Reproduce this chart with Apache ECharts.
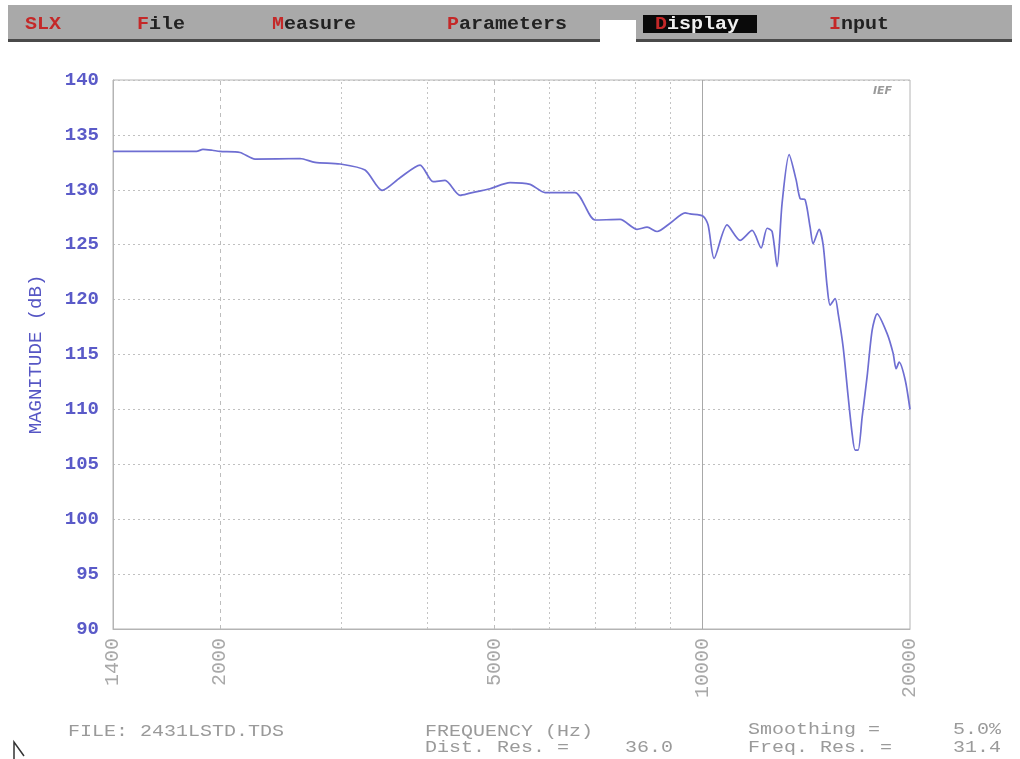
<!DOCTYPE html>
<html>
<head>
<meta charset="utf-8">
<script src="https://cdn.jsdelivr.net/npm/echarts@6/dist/echarts.min.js"></script>
<style>
html,body{margin:0;padding:0;background:#fff;}
#chart{width:1020px;height:759px;}
</style>
</head>
<body>
<div id="chart"></div>
<script>
// Frequency (Hz) of each sampled point
var freqs = [1400, 1850, 1890, 1950, 2000, 2139, 2249, 2613, 2747, 2986, 3246, 3436, 3648, 3900, 4073, 4239, 4457, 4608, 4926, 5266, 5630, 5919, 6542, 6994, 7602, 8046, 8319, 8601, 8982, 9444, 9602, 10028, 10197, 10403, 10864, 11346, 11810, 12170, 12416, 12625, 12837, 13053, 13362, 13678, 13861, 14094, 14332, 14476, 14769, 14967, 15168, 15321, 15579, 15735, 16000, 16269, 16488, 16654, 16822, 17048, 17334, 17626, 17923, 18531, 18906, 19096, 19288, 19678, 20000];
// Magnitude (dB)
var magnitudes = [133.5, 133.5, 133.68, 133.6, 133.5, 133.4, 132.8, 132.85, 132.5, 132.35, 131.8, 129.95, 131.1, 132.25, 130.75, 130.85, 129.5, 129.7, 130.1, 130.65, 130.5, 129.75, 129.75, 127.25, 127.3, 126.4, 126.6, 126.2, 126.95, 127.9, 127.8, 127.6, 126.8, 123.75, 126.8, 125.4, 126.3, 124.7, 126.5, 126.2, 123.0, 128.8, 133.2, 130.9, 129.2, 129.1, 126.6, 125.1, 126.4, 125.0, 121.2, 119.5, 120.1, 118.75, 115.7, 111.2, 107.8, 106.3, 106.3, 109.3, 113.0, 117.2, 118.7, 116.9, 115.1, 113.7, 114.3, 112.7, 110.0];
// X tick labels (Hz)
var xTickLabels = [1400, 2000, 5000, 10000, 20000];
// Vertical grid frequencies
var gridDashed = [2000, 5000];
var gridDotted = [3000, 4000, 6000, 7000, 8000, 9000];
var gridSolid = [10000];

var MONO = '"Liberation Mono", "DejaVu Sans Mono", monospace';

var chart = echarts.init(document.getElementById('chart'), null, {renderer: 'canvas'});

var markData = [];
gridDashed.forEach(function (f) {
  markData.push({xAxis: f, lineStyle: {color: '#bdbdbd', width: 1, type: [4, 4]}});
});
gridDotted.forEach(function (f) {
  markData.push({xAxis: f, lineStyle: {color: '#c4c4c4', width: 1, type: [2, 3]}});
});
gridSolid.forEach(function (f) {
  markData.push({xAxis: f, lineStyle: {color: '#a8a8a8', width: 1, type: 'solid'}});
});

var seriesData = freqs.map(function (f, i) { return [f, magnitudes[i]]; });

function footText(x, y, text, align) {
  return {
    type: 'text', x: x, y: y, z: 13, scaleY: 0.8,
    style: {text: text, font: '20px ' + MONO, fill: '#9a9a9a', verticalAlign: 'middle', align: align || 'left'}
  };
}

function menuText(x, first, rest, restColor) {
  return {
    type: 'text', x: x, y: 24, z: 13, scaleY: 0.9,
    style: {
      text: '{r|' + first + '}{k|' + rest + '}', font: 'bold 20px ' + MONO, verticalAlign: 'middle',
      rich: {r: {fill: '#c42828', font: 'bold 20px ' + MONO}, k: {fill: restColor, font: 'bold 20px ' + MONO}}
    }
  };
}

var option = {
  animation: false,
  backgroundColor: '#ffffff',
  grid: {
    left: 113, right: 110, top: 80, bottom: 130,
    show: true, borderColor: '#b4b4b4', borderWidth: 1, backgroundColor: 'transparent'
  },
  xAxis: {
    type: 'log',
    logBase: 10,
    min: 1400,
    max: 20000,
    axisLine: {show: true, lineStyle: {color: '#b4b4b4'}},
    axisTick: {show: false},
    splitLine: {show: false},
    minorTick: {show: false},
    minorSplitLine: {show: false},
    axisLabel: {
      customValues: xTickLabels,
      formatter: function (v) { return String(Math.round(v)); },
      rotate: 90,
      margin: 9,
      color: '#a8a8a8',
      fontFamily: MONO,
      fontSize: 20,
      showMinLabel: true,
      showMaxLabel: true
    }
  },
  yAxis: {
    type: 'value',
    min: 90,
    max: 140,
    interval: 5,
    name: 'MAGNITUDE (dB)',
    nameLocation: 'middle',
    nameGap: 68,
    nameRotate: 90,
    nameTextStyle: {color: '#5656c4', fontFamily: MONO, fontSize: 19},
    axisLine: {show: true, lineStyle: {color: '#b4b4b4'}},
    axisTick: {show: false},
    axisLabel: {
      color: '#5a5ac8',
      fontFamily: MONO,
      fontWeight: 'bold',
      fontSize: 19,
      margin: 14
    },
    splitLine: {show: true, lineStyle: {color: '#c0c0c0', width: 1, type: [2, 3]}}
  },
  series: [{
    type: 'line',
    data: seriesData,
    showSymbol: false,
    smooth: 0.25,
    lineStyle: {color: '#6e6ed2', width: 1.7},
    markLine: {
      silent: true,
      symbol: ['none', 'none'],
      label: {show: false},
      data: markData,
      z: 1
    },
    z: 3
  }],
  graphic: [
    // menu bar
    {type: 'rect', shape: {x: 8, y: 5, width: 1004, height: 36}, style: {fill: '#a9a9a9'}, z: 10},
    {type: 'rect', shape: {x: 8, y: 39, width: 1004, height: 3}, style: {fill: '#4a4a4a'}, z: 11},
    {type: 'rect', shape: {x: 600, y: 20, width: 36, height: 22}, style: {fill: '#ffffff'}, z: 12},
    {type: 'rect', shape: {x: 643, y: 15, width: 114, height: 18}, style: {fill: '#0a0a0a'}, z: 12},
    {type: 'text', x: 25, y: 24, z: 13, scaleY: 0.9, style: {text: 'SLX', font: 'bold 20px ' + MONO, fill: '#c42828', verticalAlign: 'middle'}},
    menuText(137, 'F', 'ile', '#222222'),
    menuText(272, 'M', 'easure', '#222222'),
    menuText(447, 'P', 'arameters', '#222222'),
    menuText(655, 'D', 'isplay', '#f0f0f0'),
    menuText(829, 'I', 'nput', '#222222'),
    // logo
    {type: 'text', x: 873, y: 91, z: 13, style: {text: 'IEF', font: 'italic bold 11px "DejaVu Sans"', fill: '#9a9a9a', verticalAlign: 'middle'}},
    // footer texts
    footText(68, 732, 'FILE: 2431LSTD.TDS'),
    footText(425, 732, 'FREQUENCY (Hz)'),
    footText(425, 748, 'Dist. Res. ='),
    footText(673, 748, '36.0', 'right'),
    footText(748, 730, 'Smoothing ='),
    footText(1001, 730, '5.0%', 'right'),
    footText(748, 748, 'Freq. Res. ='),
    footText(1001, 748, '31.4', 'right'),
    // mouse cursor
    {type: 'polyline', z: 13, shape: {points: [[14, 759], [14, 742], [24, 756]]}, style: {stroke: '#333333', lineWidth: 1.5, fill: null}}
  ]
};

chart.setOption(option);
</script>
</body>
</html>
